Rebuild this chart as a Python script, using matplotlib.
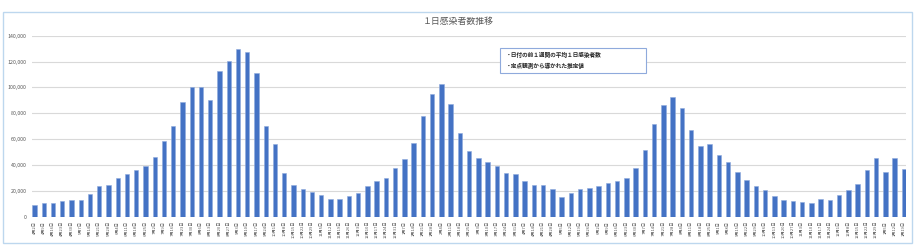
import pandas as pd
import matplotlib
matplotlib.use("Agg")
import matplotlib.pyplot as plt
from matplotlib.patches import Rectangle

plt.rcParams["font.family"] = ["Noto Sans CJK JP", "DejaVu Sans"]

# 週ごとの日付（4月2日から）
dates = pd.date_range("2023-04-02", periods=95, freq="7D")
labels = [f"{d.month}月{d.day}日" for d in dates]

# 1日感染者数（推定値）
cases = [
    9000, 10300, 10600, 11900, 13100, 12600, 17800, 23700, 24200, 29900,
    33200, 36300, 39400, 46400, 58200, 70100, 88400, 100500, 100000, 90000,
    112900, 120400, 129400, 127600, 110800, 69800, 56400, 33800, 24700, 21400,
    19300, 16800, 13900, 13400, 16000, 18300, 23500, 27300, 29900, 37400,
    44800, 57200, 77800, 94600, 102300, 87400, 64400, 50800, 45100, 42000,
    39400, 33800, 33200, 27800, 24500, 24200, 21100, 15500, 18600, 21600,
    22200, 23700, 26300, 27300, 30200, 37400, 51500, 71400, 86600, 92500,
    84300, 66800, 54400, 56200, 47700, 42300, 34300, 28600, 23700, 20600,
    16200, 12900, 11900, 11100, 10300, 13400, 12600, 16500, 20600, 25500,
    35800, 45100, 34500, 45600, 36600,
]

yticks = [0, 20000, 40000, 60000, 80000, 100000, 120000, 140000]

W, H = 915, 252
fig = plt.figure(figsize=(W / 100, H / 100), dpi=100)
ax = fig.add_axes([32.3 / W, 35.3 / H, (906 - 32.3) / W, 181 / H])

x = range(len(cases))
bw = 0.47
ax.bar(x, cases, width=bw, color="#4472C4", edgecolor="#8FAADC", linewidth=0.4, zorder=3)

ax.set_xlim(-bw / 2, len(cases) - 1 + bw / 2)
ax.set_ylim(0, 140000)
ax.set_yticks(yticks)
ax.set_yticklabels([f"{v:,}" for v in yticks], fontsize=3.8, color="#595959")
ax.set_xticks(list(x))
ax.set_xticklabels(labels, rotation=90, fontsize=3.0, color="#595959")
ax.tick_params(length=0, pad=4)
ax.tick_params(axis="x", pad=3)
ax.grid(axis="y", color="#D9D9D9", linewidth=0.8, zorder=0)
for s in ax.spines.values():
    s.set_visible(False)

fig.text(458 / W, 1 - 21 / H, "１日感染者数推移", ha="center", va="center",
         fontsize=6.4, color="#595959")

# 注記ボックス
fig.patches.append(Rectangle((500 / W, 1 - 73 / H), 146 / W, 25 / H,
                             transform=fig.transFigure, facecolor="white",
                             edgecolor="#8FAADC", linewidth=0.8, zorder=5))
fig.text(506 / W, 1 - 55 / H, "・日付の前１週間の平均１日感染者数",
         fontsize=4.1, color="#262626", fontweight="bold", va="center", zorder=6)
fig.text(506 / W, 1 - 65.5 / H, "・定点観測から導かれた推定値",
         fontsize=4.1, color="#262626", fontweight="bold", va="center", zorder=6)

# グラフエリアの枠
fig.patches.append(Rectangle((2.5 / W, 1 - 243 / H), 909.5 / W, 231 / H,
                             transform=fig.transFigure, facecolor="none",
                             edgecolor="#BDD7EE", linewidth=1.0))

fig.savefig("out.png", dpi=100)
